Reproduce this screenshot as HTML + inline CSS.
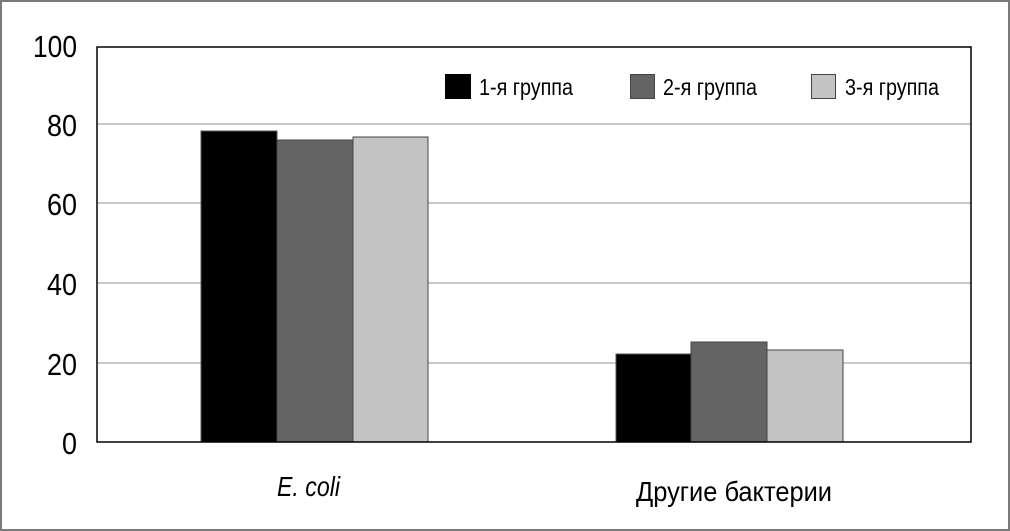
<!DOCTYPE html>
<html><head><meta charset="utf-8"><style>
html,body{margin:0;padding:0;background:#fff}
svg{display:block}
text{font-family:"Liberation Sans",sans-serif;fill:#000}
</style></head><body>
<svg width="1010" height="531" viewBox="0 0 1010 531" xmlns="http://www.w3.org/2000/svg">
<rect x="1" y="1" width="1008" height="529" fill="#fff" stroke="#7a7a7a" stroke-width="2"/>
<g stroke="#c8c8c8" stroke-width="2">
<line x1="97" y1="124" x2="971" y2="124"/>
<line x1="97" y1="203" x2="971" y2="203"/>
<line x1="97" y1="283" x2="971" y2="283"/>
<line x1="97" y1="363" x2="971" y2="363"/>
</g>
<rect x="201" y="131" width="76" height="311" fill="#000" stroke="#555" stroke-width="1"/>
<rect x="277" y="140" width="76" height="302" fill="#646464" stroke="#444" stroke-width="1"/>
<rect x="353" y="137" width="75" height="305" fill="#c3c3c3" stroke="#444" stroke-width="1"/>
<rect x="616" y="354" width="75" height="88" fill="#000" stroke="#555" stroke-width="1"/>
<rect x="691" y="342" width="76" height="100" fill="#646464" stroke="#444" stroke-width="1"/>
<rect x="767" y="350" width="76" height="92" fill="#c3c3c3" stroke="#444" stroke-width="1"/>
<rect x="97" y="47" width="874" height="395" fill="none" stroke="#000" stroke-width="1.5"/>
<g font-size="31" text-anchor="end">
<text x="77" y="57" textLength="44" lengthAdjust="spacingAndGlyphs">100</text>
<text x="77" y="136" textLength="30" lengthAdjust="spacingAndGlyphs">80</text>
<text x="77" y="215" textLength="30" lengthAdjust="spacingAndGlyphs">60</text>
<text x="77" y="295" textLength="30" lengthAdjust="spacingAndGlyphs">40</text>
<text x="77" y="375" textLength="30" lengthAdjust="spacingAndGlyphs">20</text>
<text x="77" y="454" textLength="15" lengthAdjust="spacingAndGlyphs">0</text>
</g>
<rect x="445" y="74" width="26" height="25" fill="#000"/>
<rect x="630.5" y="74.5" width="24" height="24" fill="#646464" stroke="#444"/>
<rect x="811.5" y="74.5" width="24" height="24" fill="#c3c3c3" stroke="#444"/>
<g font-size="23">
<text x="479" y="95" textLength="94" lengthAdjust="spacingAndGlyphs">1-я группа</text>
<text x="663" y="95" textLength="94" lengthAdjust="spacingAndGlyphs">2-я группа</text>
<text x="845" y="95" textLength="94" lengthAdjust="spacingAndGlyphs">3-я группа</text>
</g>
<g font-size="28">
<text x="277" y="496" font-style="italic" textLength="63" lengthAdjust="spacingAndGlyphs">E. coli</text>
<text x="636" y="501" textLength="196" lengthAdjust="spacingAndGlyphs">Другие бактерии</text>
</g>
</svg>
</body></html>
